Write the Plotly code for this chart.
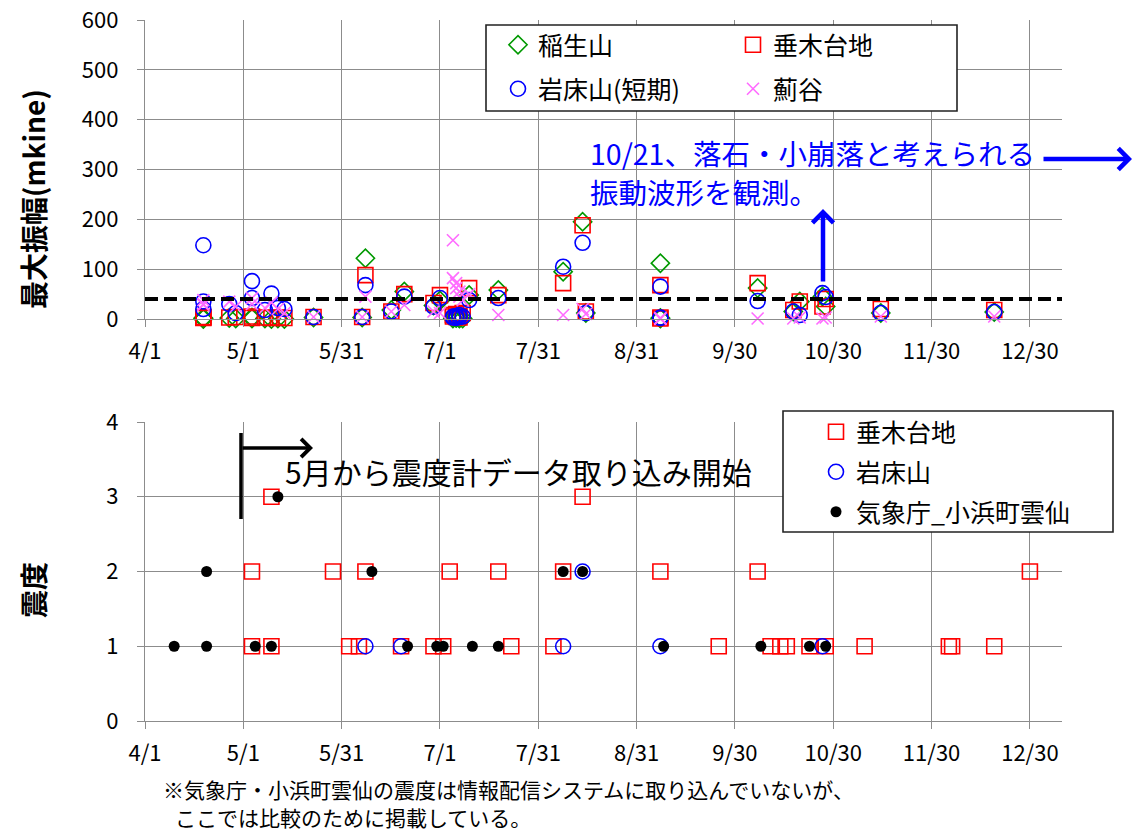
import plotly.graph_objects as go
from datetime import datetime, timedelta

YEAR = 2014
BASE = datetime(YEAR, 4, 1)

# ---------------- Top chart data (最大振幅, mkine) ----------------
event_dates = ["4/19", "4/19", "4/19", "4/27", "4/29", "5/4", "5/4", "5/8", "5/10", "5/12",
               "5/14", "5/23", "6/7", "6/8", "6/16", "6/20", "6/29", "7/1", "7/5", "7/5",
               "7/6", "7/6", "7/7", "7/7", "7/8", "7/10", "7/19", "8/8", "8/14", "8/15",
               "9/7", "9/7", "9/7", "10/7", "10/18", "10/20", "10/27", "10/28", "11/14", "12/19"]
inasayama = [1, 0, 2, 2, 1, 3, 1, 1, 0, 1,
             0, 3, 3, 122, 18, 55, 27, 37, 2, 1,
             3, 2, 1, 2, 1, 48, 58, 95, 195, 12,
             112, 1, 2, 62, 15, 35, 45, 25, 12, 14]
tarugi = [4, 2, 3, 3, 4, 5, 2, 3, 2, 3,
          2, 4, 4, 88, 15, 50, 32, 48, 8, 5,
          10, 4, 6, 3, 12, 62, 48, 72, 188, 15,
          68, 3, 1, 72, 18, 35, 25, 40, 20, 18]
iwatoko_short = [148, 35, 20, 30, 12, 76, 42, 18, 51, 22,
                 20, 4, 4, 68, 15, 45, 25, 42, 5, 3,
                 6, 2, 4, 8, 5, 38, 42, 105, 153, 12,
                 65, 2, 3, 36, 15, 8, 52, 44, 12, 14]
azamidani = [38, 30, 28, 35, 25, 42, 30, 22, 33, 20,
             12, 4, 4, 45, 15, 28, 15, 12, 158, 82,
             72, 62, 55, 45, 38, 50, 8, 8, 20, 10,
             2, 1, 0, 1, 1, 3, 1, 3, 5, 5]
threshold = 40

# ---------------- Bottom chart data (震度) ----------------
tarugi_s_dates = ["5/10", "8/14",
                  "5/4", "5/29", "6/8", "7/4", "7/19", "8/8", "9/7", "10/7", "12/30",
                  "5/4", "5/10", "6/3", "6/6", "6/19", "6/29", "7/2", "7/23", "8/5", "9/25",
                  "10/11", "10/14", "10/16", "10/23", "10/28", "11/9", "12/5", "12/6", "12/19"]
tarugi_s = [3, 3,
            2, 2, 2, 2, 2, 2, 2, 2, 2,
            1, 1, 1, 1, 1, 1, 1, 1, 1, 1,
            1, 1, 1, 1, 1, 1, 1, 1, 1]
iwatoko_s_dates = ["8/14", "6/8", "6/19", "8/8", "9/7", "10/27"]
iwatoko_s = [2, 1, 1, 1, 1, 1]
jma_dates = ["5/12", "4/20", "6/10", "8/8", "8/14",
             "4/10", "4/20", "5/5", "5/10", "6/21", "6/30", "7/2", "7/11", "7/19",
             "9/8", "10/8", "10/23", "10/28"]
jma_s = [3, 2, 2, 2, 2,
         1, 1, 1, 1, 1, 1, 1, 1, 1,
         1, 1, 1, 1]

tick_text = ["4/1", "5/1", "5/31", "7/1", "7/31", "8/31", "9/30", "10/30", "11/30", "12/30"]


def to_date(s):
    m, d = s.split("/")
    return f"{YEAR}-{int(m):02d}-{int(d):02d}"


def fmt(dt):
    return dt.strftime("%Y-%m-%d %H:%M:%S")


tick_step = 273 / 9
tick_vals = [fmt(BASE + timedelta(days=k * tick_step)) for k in range(len(tick_text))]
x_range = [fmt(BASE), fmt(BASE + timedelta(days=282.9))]

GREEN = "#009900"
RED = "#FF0000"
BLUE = "#0000FF"
PINK = "#FF6BFF"
GRID = "#8C8C8C"
FONT = "Noto Sans CJK JP"

fig = go.Figure()
ev_x = [to_date(s) for s in event_dates]

fig.add_trace(go.Scatter(x=ev_x, y=inasayama, mode="markers", name="稲生山", cliponaxis=False,
                         marker=dict(symbol="diamond-open", size=14, color=GREEN, line=dict(width=1.6)),
                         xaxis="x", yaxis="y", legend="legend"))
fig.add_trace(go.Scatter(x=ev_x, y=tarugi, mode="markers", name="垂木台地", cliponaxis=False,
                         marker=dict(symbol="square-open", size=15, color=RED, line=dict(width=1.6)),
                         xaxis="x", yaxis="y", legend="legend"))
fig.add_trace(go.Scatter(x=ev_x, y=iwatoko_short, mode="markers", name="岩床山(短期)", cliponaxis=False,
                         marker=dict(symbol="circle-open", size=15, color=BLUE, line=dict(width=1.6)),
                         xaxis="x", yaxis="y", legend="legend2"))
fig.add_trace(go.Scatter(x=ev_x, y=azamidani, mode="markers", name="薊谷", cliponaxis=False,
                         marker=dict(symbol="x-thin-open", size=12, color=PINK, line=dict(width=1.6, color=PINK)),
                         xaxis="x", yaxis="y", legend="legend2"))
fig.add_trace(go.Scatter(x=x_range, y=[threshold, threshold], mode="lines", showlegend=False,
                         line=dict(color="black", width=4, dash="13px,6px"),
                         xaxis="x", yaxis="y", hoverinfo="skip"))

fig.add_trace(go.Scatter(x=[to_date(s) for s in tarugi_s_dates], y=tarugi_s, mode="markers", name="垂木台地",
                         cliponaxis=False,
                         marker=dict(symbol="square-open", size=15, color=RED, line=dict(width=1.6)),
                         xaxis="x2", yaxis="y2", legend="legend3"))
fig.add_trace(go.Scatter(x=[to_date(s) for s in iwatoko_s_dates], y=iwatoko_s, mode="markers", name="岩床山",
                         cliponaxis=False,
                         marker=dict(symbol="circle-open", size=15, color=BLUE, line=dict(width=1.6)),
                         xaxis="x2", yaxis="y2", legend="legend4"))
fig.add_trace(go.Scatter(x=[to_date(s) for s in jma_dates], y=jma_s, mode="markers", name="気象庁_小浜町雲仙",
                         cliponaxis=False,
                         marker=dict(symbol="circle", size=11, color="black"),
                         xaxis="x2", yaxis="y2", legend="legend5"))

# the page body margin is removed by post_script below, so window pixels == figure pixels
W, H = 1134, 832
L, T = 145, 20
PW = 1062 - 145
PH = 721 - 20
R = W - L - PW
B = H - T - PH


def px(xp):
    return (xp - L) / PW


def py(yp):
    return (T + PH - yp) / PH


xcommon = dict(type="date", range=x_range, tickmode="array", tickvals=tick_vals, ticktext=tick_text,
               showgrid=True, gridcolor=GRID, gridwidth=1.3, showline=True, linecolor=GRID, linewidth=1.3,
               ticks="outside", ticklen=7, tickcolor=GRID, tickwidth=1.3, automargin=False,
               ticklabeloverflow="allow",
               tickfont=dict(family=FONT, size=22, color="black"), ticklabelstandoff=5, zeroline=False)
ycommon = dict(showgrid=True, gridcolor=GRID, gridwidth=1.3, showline=True, linecolor=GRID, linewidth=1.3,
               ticks="outside", ticklen=7, tickcolor=GRID, tickwidth=1.3, automargin=False,
               ticklabeloverflow="allow",
               tickfont=dict(family=FONT, size=22, color="black"), ticklabelstandoff=14, zeroline=False)

leg_common = dict(bgcolor="rgba(0,0,0,0)", borderwidth=0, font=dict(family=FONT, size=25, color="black"),
                  xanchor="left", yanchor="middle")

fig.update_layout(
    width=W, height=H, autosize=False,
    margin=dict(l=L, r=R, t=T, b=B, autoexpand=False),
    paper_bgcolor="white", plot_bgcolor="white",
    font=dict(family=FONT, size=22, color="black"),
    xaxis=dict(domain=[0, 1], anchor="y", **xcommon),
    yaxis=dict(domain=[py(319), 1], anchor="x", range=[0, 600], dtick=100, **ycommon),
    xaxis2=dict(domain=[0, 1], anchor="y2", **xcommon),
    yaxis2=dict(domain=[0, py(422)], anchor="x2", range=[0, 4], dtick=1, **ycommon),
    legend=dict(orientation="h", entrywidth=190, entrywidthmode="pixels", x=px(498), y=py(45), **leg_common),
    legend2=dict(orientation="h", entrywidth=190, entrywidthmode="pixels", x=px(498), y=py(89), **leg_common),
    legend3=dict(x=px(816), y=py(432), **leg_common),
    legend4=dict(x=px(816), y=py(472), **leg_common),
    legend5=dict(x=px(816), y=py(512), **leg_common),
    showlegend=True,
)

shapes = [
    dict(type="rect", xref="paper", yref="paper", x0=px(486), x1=px(957), y0=py(111), y1=py(25),
         line=dict(color="#222222", width=1.6), fillcolor="white", layer="above"),
    dict(type="rect", xref="paper", yref="paper", x0=px(783), x1=px(1113), y0=py(532), y1=py(411),
         line=dict(color="#222222", width=1.6), fillcolor="white", layer="above"),
    dict(type="line", xref="paper", yref="paper", x0=px(241), x1=px(241), y0=py(519), y1=py(433),
         line=dict(color="black", width=3.5)),
]
fig.update_layout(shapes=shapes)

ann = [
    dict(text="<b>最大振幅(mkine)</b>", x=px(33), y=py(199), xref="paper", yref="paper", textangle=-90,
         xanchor="center", yanchor="middle",
         showarrow=False, font=dict(family=FONT, size=28, color="black")),
    dict(text="<b>震度</b>", x=px(33), y=py(590), xref="paper", yref="paper", textangle=-90,
         xanchor="center", yanchor="middle",
         showarrow=False, font=dict(family=FONT, size=28, color="black")),
    dict(text="10/21、落石・小崩落と考えられる", x=px(588), y=py(152), xref="paper", yref="paper",
         xanchor="left", yanchor="middle", showarrow=False, font=dict(family=FONT, size=28.5, color=BLUE)),
    dict(text="振動波形を観測。", x=px(588), y=py(191), xref="paper", yref="paper",
         xanchor="left", yanchor="middle", showarrow=False, font=dict(family=FONT, size=28.5, color=BLUE)),
    dict(text="", x=px(1132), y=py(159), xref="paper", yref="paper", showarrow=True,
         ax=-90, ay=0, arrowhead=4, arrowsize=0.9, arrowwidth=4.5, arrowcolor=BLUE, standoff=0),
    dict(text="", x=px(823), y=py(209), xref="paper", yref="paper", showarrow=True,
         ax=0, ay=74, arrowhead=4, arrowsize=0.9, arrowwidth=4.5, arrowcolor=BLUE, standoff=0),
    dict(text="", x=px(313), y=py(448), xref="paper", yref="paper", showarrow=True,
         ax=-72, ay=0, arrowhead=4, arrowsize=1.0, arrowwidth=3.5, arrowcolor="black", standoff=0),
    dict(text="5月から震度計データ取り込み開始", x=px(283), y=py(471), xref="paper", yref="paper",
         xanchor="left", yanchor="middle", showarrow=False, font=dict(family=FONT, size=30, color="black")),
    dict(text="※気象庁・小浜町雲仙の震度は情報配信システムに取り込んでいないが、",
         x=px(161), y=py(789), xref="paper", yref="paper", xanchor="left", yanchor="middle",
         showarrow=False, font=dict(family=FONT, size=21, color="black")),
    dict(text="ここでは比較のために掲載している。",
         x=px(173), y=py(817), xref="paper", yref="paper", xanchor="left", yanchor="middle",
         showarrow=False, font=dict(family=FONT, size=21, color="black")),
]
fig.update_layout(annotations=ann)

fig.write_html("out.html", config={"displayModeBar": False},
               post_script="document.body.style.margin='0px';document.body.style.overflow='hidden';")
